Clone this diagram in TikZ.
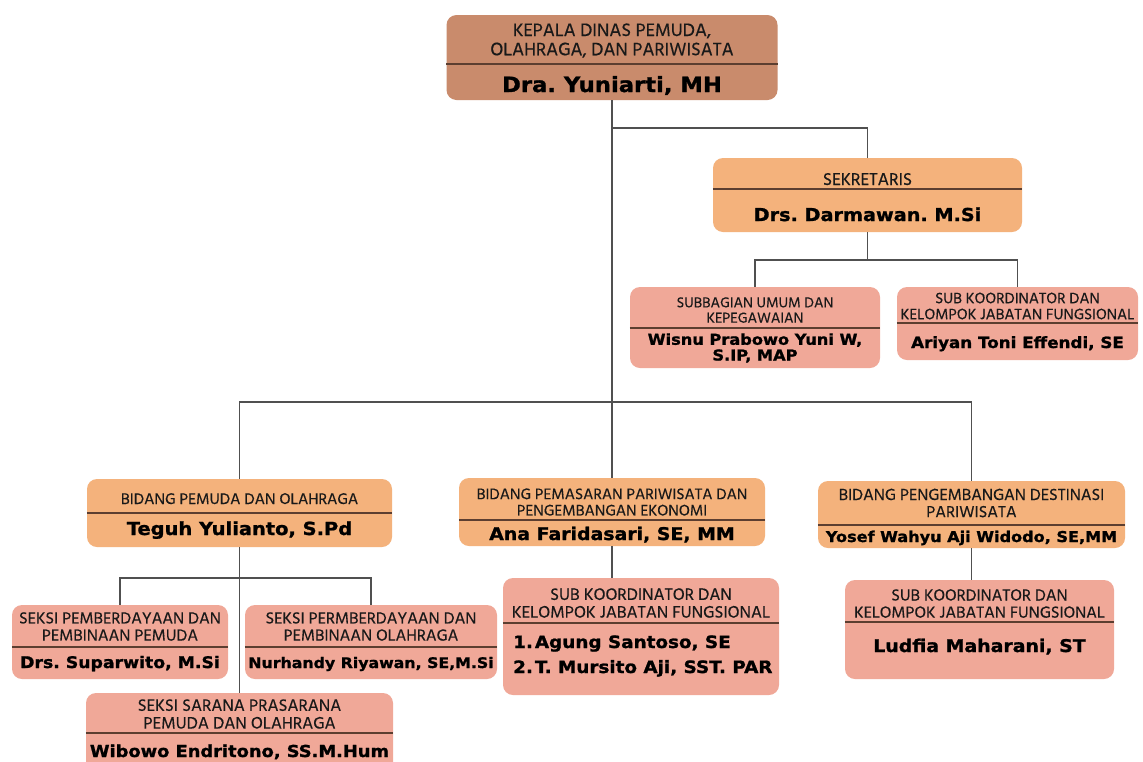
\documentclass[tikz,border=0pt]{standalone}
\usepackage{fontspec}
\usepackage{xcolor}
\newfontfamily\ttlfont[FakeBold=0.4]{Hind Madurai}
\newfontfamily\nmfont[FakeStretch=1.08,FakeBold=1.2]{DejaVu Sans Bold}
\definecolor{kepfill}{RGB}{201,139,108}
\definecolor{orafill}{RGB}{244,178,124}
\definecolor{salfill}{RGB}{240,168,152}
\definecolor{divcol}{RGB}{92,62,48}
\definecolor{conncol}{RGB}{80,80,80}
\frenchspacing

\begin{document}
\begin{tikzpicture}[x=1pt,y=-1pt,
    jbox/.style={rounded corners=10pt,inner sep=0pt},
    kep/.style={jbox,fill=kepfill},
    ora/.style={jbox,fill=orafill},
    sal/.style={jbox,fill=salfill},
    ttl/.style={inner sep=0pt,align=center,text=black!90,font=\ttlfont\fontsize{#1}{\dimexpr#1pt*104/100\relax}\selectfont},
    nm/.style={inner sep=0pt,align=center,font=\nmfont\fontsize{#1}{\dimexpr#1pt*105/100\relax}\selectfont},
    divline/.style={draw=divcol,line width=1.4pt},
    conn/.style={draw=conncol,line width=1.2pt}]
  \clip (0,0) rectangle (1143,761);
  \fill[white] (0,0) rectangle (1143,761);

  % pimpinan
  \node[kep,minimum width=331pt,minimum height=85pt] (kepala) at (612,57.5) {};
  \node[ttl=18.5] (kepala-t) at (612,40.5) {KEPALA DINAS PEMUDA,\\OLAHRAGA, DAN PARIWISATA};
  \draw[divline] (kepala.west |- 0,64) -- (kepala.east |- 0,64);
  \node[nm=21,anchor=base] (kepala-n) at (612,92) {Dra. Yuniarti, MH};

  % sekretariat
  \node[ora,minimum width=309pt,minimum height=74pt] (sekr) at (867.5,195) {};
  \node[ttl=17.5,anchor=base] (sekr-t) at (867.5,185) {SEKRETARIS};
  \draw[divline] (sekr.west |- 0,189) -- (sekr.east |- 0,189);
  \node[nm=17.8,anchor=base] (sekr-n) at (867.5,221) {Drs. Darmawan. M.Si};

  \node[sal,minimum width=250pt,minimum height=81pt] (subbag) at (755,327.5) {};
  \node[ttl=14.7] (subbag-t) at (755,310) {SUBBAGIAN UMUM DAN\\KEPEGAWAIAN};
  \draw[divline] (subbag.west |- 0,328) -- (subbag.east |- 0,328);
  \node[nm=15] (subbag-n) at (755,348) {Wisnu Prabowo Yuni W,\\S.IP, MAP};

  \node[sal,minimum width=241pt,minimum height=73pt] (subkoord) at (1017.5,323.5) {};
  \node[ttl=15.4] (subkoord-t) at (1017.5,306) {SUB KOORDINATOR DAN\\KELOMPOK JABATAN FUNGSIONAL};
  \draw[divline] (subkoord.west |- 0,323) -- (subkoord.east |- 0,323);
  \node[nm=15.5,anchor=base] (subkoord-n) at (1017.5,348) {Ariyan Toni Effendi, SE};

  % bidang
  \node[ora,minimum width=305pt,minimum height=68pt] (bidpemuda) at (239.5,513) {};
  \node[ttl=15.8,anchor=base] (bidpemuda-t) at (239.5,504) {BIDANG PEMUDA DAN OLAHRAGA};
  \draw[divline] (bidpemuda.west |- 0,513) -- (bidpemuda.east |- 0,513);
  \node[nm=18,anchor=base] (bidpemuda-n) at (239.5,535) {Teguh Yulianto, S.Pd};

  \node[ora,minimum width=306pt,minimum height=68pt] (pemasaran) at (612,512) {};
  \node[ttl=15.7] (pemasaran-t) at (612,502) {BIDANG PEMASARAN PARIWISATA DAN\\PENGEMBANGAN EKONOMI};
  \draw[divline] (pemasaran.west |- 0,520) -- (pemasaran.east |- 0,520);
  \node[nm=17.5,anchor=base] (pemasaran-n) at (612,540) {Ana Faridasari, SE, MM};

  \node[ora,minimum width=307pt,minimum height=67pt] (destinasi) at (971.5,514.5) {};
  \node[ttl=16.5] (destinasi-t) at (971.5,503) {BIDANG PENGEMBANGAN DESTINASI\\PARIWISATA};
  \draw[divline] (destinasi.west |- 0,525) -- (destinasi.east |- 0,525);
  \node[nm=14.9,anchor=base] (destinasi-n) at (971.5,542) {Yosef Wahyu Aji Widodo, SE,MM};

  % seksi
  \node[sal,minimum width=216pt,minimum height=74pt] (seksipmd) at (120,642) {};
  \node[ttl=16.5] (seksipmd-t) at (120,626.5) {SEKSI PEMBERDAYAAN DAN\\PEMBINAAN PEMUDA};
  \draw[divline] (seksipmd.west |- 0,647) -- (seksipmd.east |- 0,647);
  \node[nm=16,anchor=base] (seksipmd-n) at (120,668) {Drs. Suparwito, M.Si};

  \node[sal,minimum width=252pt,minimum height=74pt] (seksiolr) at (371,642) {};
  \node[ttl=16.5] (seksiolr-t) at (371,626.5) {SEKSI PERMBERDAYAAN DAN\\PEMBINAAN OLAHRAGA};
  \draw[divline] (seksiolr.west |- 0,647) -- (seksiolr.east |- 0,647);
  \node[nm=14.6,anchor=base] (seksiolr-n) at (371,668) {Nurhandy Riyawan, SE,M.Si};

  \node[sal,minimum width=307pt,minimum height=82pt] (sarana) at (239.5,734) {};
  \node[ttl=17] (sarana-t) at (239.5,714) {SEKSI SARANA PRASARANA\\PEMUDA DAN OLAHRAGA};
  \draw[divline] (sarana.west |- 0,733) -- (sarana.east |- 0,733);
  \node[nm=16.5,anchor=base] (sarana-n) at (239.5,757) {Wibowo Endritono, SS.M.Hum};

  \node[sal,minimum width=276pt,minimum height=117pt] (jfpemasaran) at (641,636.5) {};
  \node[ttl=17] (jfpemasaran-t) at (641,603) {SUB KOORDINATOR DAN\\KELOMPOK JABATAN FUNGSIONAL};
  \draw[divline] (jfpemasaran.west |- 0,623) -- (jfpemasaran.east |- 0,623);
  \node[nm=17,anchor=base west] (jfpemasaran-a) at (513,648) {1.\hspace{2pt}Agung Santoso, SE};
  \node[nm=17,anchor=base west] (jfpemasaran-b) at (513,673) {2.\hspace{2pt}T. Mursito Aji, SST. PAR};

  \node[sal,minimum width=269pt,minimum height=99pt] (jfdestinasi) at (979.5,629.5) {};
  \node[ttl=16.5] (jfdestinasi-t) at (979.5,603.5) {SUB KOORDINATOR DAN\\KELOMPOK JABATAN FUNGSIONAL};
  \draw[divline] (jfdestinasi.west |- 0,622) -- (jfdestinasi.east |- 0,622);
  \node[nm=17.5,anchor=base] (jfdestinasi-n) at (979.5,652) {Ludfia Maharani, ST};

  % garis
  \coordinate (bus) at (612,402);
  \coordinate (sekrbus) at (612,128);
  \coordinate (sekrdrop) at (867.5,260);
  \coordinate (seksibus) at (239.5,578);
  \draw[conn] (kepala.south) -- (kepala.south |- bus);
  \draw[conn] (kepala.south |- sekrbus) -| (sekr.north);
  \draw[conn] (sekr.south) -- (sekrdrop);
  \draw[conn] (subbag.north) |- (sekrdrop) -| (subkoord.north);
  \draw[conn] (bidpemuda.north) |- (bus) -| (destinasi.north);
  \draw[conn] (bus) -- (pemasaran.north);
  \draw[conn] (bidpemuda.south) -- (sarana.north);
  \draw[conn] (seksipmd.north) |- (seksibus) -| (seksiolr.north);
  \draw[conn] (pemasaran.south) -- (pemasaran.south |- jfpemasaran.north);
  \draw[conn] (destinasi.south) -- (destinasi.south |- jfdestinasi.north);
\end{tikzpicture}
\end{document}
